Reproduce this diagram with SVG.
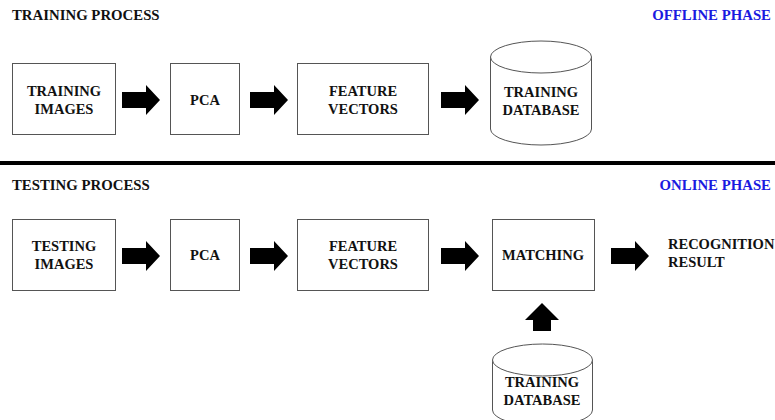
<svg xmlns="http://www.w3.org/2000/svg" width="775" height="420" viewBox="0 0 775 420">
<defs>
<style>
.box{fill:#fff;stroke:#555;stroke-width:1}
.t{font-family:"Liberation Serif","Times New Roman",serif;font-weight:bold;font-size:14.5px;fill:#111;text-anchor:middle}
.h{font-family:"Liberation Serif","Times New Roman",serif;font-weight:bold;font-size:14.8px;fill:#111}
.b{font-family:"Liberation Serif","Times New Roman",serif;font-weight:bold;font-size:14.8px;fill:#1a1ae0;text-anchor:end}
.arr{fill:#000}
</style>
<path id="ra" d="M0,-8 H24 V-15 L38,0 L24,15 V8 H0 Z"/>
</defs>
<rect width="775" height="420" fill="#fff"/>
<text class="h" x="12" y="20">TRAINING PROCESS</text>
<text class="b" x="771" y="20">OFFLINE PHASE</text>
<rect x="0" y="161" width="775" height="4" fill="#000"/>
<text class="h" x="12" y="190">TESTING PROCESS</text>
<text class="b" x="771" y="190">ONLINE PHASE</text>

<g id="train-images"><rect class="box" x="12.5" y="63.5" width="103" height="71"/><text class="t" x="64" y="96">TRAINING</text><text class="t" x="64" y="114">IMAGES</text></g>
<g id="train-pca"><rect class="box" x="170.5" y="63.5" width="69" height="71"/><text class="t" x="205" y="105">PCA</text></g>
<g id="train-fv"><rect class="box" x="297.5" y="63.5" width="131" height="71"/><text class="t" x="363" y="96">FEATURE</text><text class="t" x="363" y="114">VECTORS</text></g>
<g id="train-db"><path class="box" d="M490.5,57 V129 A50.5,16 0 0 0 591.5,129 V57"/><ellipse class="box" cx="541" cy="57" rx="50.5" ry="16"/><text class="t" x="541" y="97">TRAINING</text><text class="t" x="541" y="115">DATABASE</text></g>

<g id="test-images"><rect class="box" x="12.5" y="219.5" width="103" height="71"/><text class="t" x="64" y="251">TESTING</text><text class="t" x="64" y="269">IMAGES</text></g>
<g id="test-pca"><rect class="box" x="170.5" y="219.5" width="69" height="71"/><text class="t" x="205" y="260">PCA</text></g>
<g id="test-fv"><rect class="box" x="297.5" y="219.5" width="131" height="71"/><text class="t" x="363" y="251">FEATURE</text><text class="t" x="363" y="269">VECTORS</text></g>
<g id="matching"><rect class="box" x="492.5" y="219.5" width="102" height="71"/><text class="t" x="543" y="260">MATCHING</text></g>
<g id="result"><text class="t" style="text-anchor:start" x="668" y="249">RECOGNITION</text><text class="t" style="text-anchor:start" x="668" y="267">RESULT</text></g>
<g id="test-db"><path class="box" d="M492.5,360 V410 A50,16 0 0 0 592.5,410 V360"/><ellipse class="box" cx="542.5" cy="360" rx="50" ry="16"/><text class="t" x="542" y="387">TRAINING</text><text class="t" x="542" y="405">DATABASE</text></g>

<g id="connectors" class="arr">
<use href="#ra" x="122" y="100"/>
<use href="#ra" x="250" y="100"/>
<use href="#ra" x="441" y="100"/>
<use href="#ra" x="122" y="256"/>
<use href="#ra" x="250" y="256"/>
<use href="#ra" x="441" y="256"/>
<use href="#ra" x="611" y="256"/>
<path d="M533,331 V320 H525 L542,303 L559,320 H551 V331 Z"/>
</g>
</svg>
